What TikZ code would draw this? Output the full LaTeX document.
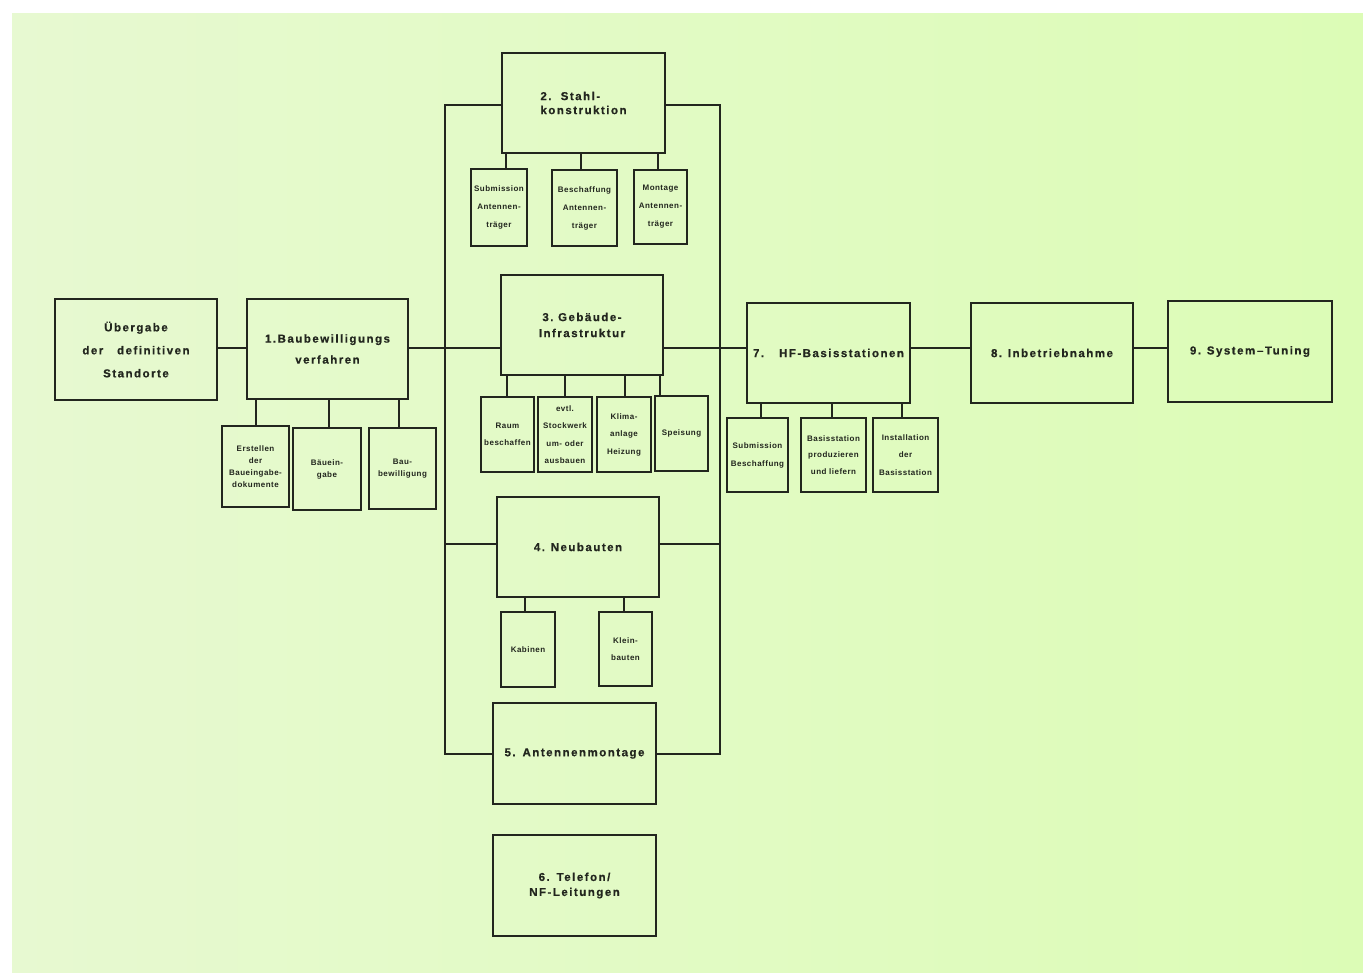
\documentclass[tikz,border=0pt]{standalone}
\usepackage{fontspec}
\newfontfamily\dfont[LetterSpace=13,FakeBold=0.6]{Liberation Sans}
\newfontfamily\sfont[LetterSpace=6]{Liberation Sans}
\definecolor{ink}{RGB}{34,38,30}
\definecolor{bgl}{RGB}{231,249,209}
\definecolor{bgr}{RGB}{220,252,182}
\tikzset{
  bigbox/.style={draw=ink, line width=1.6pt, inner sep=0pt, align=center, text=ink,
    font=\dfont\bfseries\fontsize{11.5}{16}\selectfont},
  bigls/.style={font=\dfont\bfseries\fontsize{11.5}{#1}\selectfont},
  smallbox/.style={draw=ink, line width=1.4pt, inner sep=0pt, align=center, text=ink,
    font=\sfont\bfseries\fontsize{8}{17.5}\selectfont},
  smallls/.style={font=\sfont\bfseries\fontsize{8}{#1}\selectfont},
  conn/.style={draw=ink, line width=1.5pt},
  sz/.style 2 args={minimum width=#1pt, minimum height=#2pt}
}
\begin{document}
\begin{tikzpicture}[x=1pt,y=-1pt]
\useasboundingbox (0,0) rectangle (1363,974);
\fill[white] (0,0) rectangle (1363,974);
\shade[left color=bgl, right color=bgr] (12,14) rectangle (1363,972);

% main boxes
\node[bigbox, sz={162}{101}, bigls=23] (u) at (136,349.5) {Übergabe\\der\hspace{1.2em}definitiven\\Standorte};
\node[bigbox, sz={161}{100}, bigls=21] (b1) at (327.5,349) {1.Baubewilligungs\\verfahren};
\node[bigbox, sz={163}{100}, bigls=14, align=left] (b2) at (583.5,103) {2.\hspace{0.8em}Stahl-\\konstruktion};
\node[bigbox, sz={162}{100}] (b3) at (582,325) {3.\hspace{0.4em}Gebäude-\\Infrastruktur};
\node[bigbox, sz={162}{100}] (b4) at (578,547) {4.\hspace{0.5em}Neubauten};
\node[bigbox, sz={163}{101}] (b5) at (574.5,753.5) {5.\hspace{0.6em}Antennenmontage};
\node[bigbox, sz={163}{101}, bigls=15] (b6) at (574.5,885.5) {6.\hspace{0.6em}Telefon/\\NF-Leitungen};
\node[bigbox, sz={163}{100}] (b7) at (828.5,353) {7.\hspace{1.3em}HF-Basisstationen};
\node[bigbox, sz={162}{100}] (b8) at (1052,353) {8.\hspace{0.5em}Inbetriebnahme};
\node[bigbox, sz={164}{101}] (b9) at (1250,351.5) {9.\hspace{0.5em}System\,–Tuning};

% sub boxes of 1
\node[smallbox, sz={67}{81}, smallls=12] (e1) at (255.5,466.5) {Erstellen\\der\\Baueingabe-\\dokumente};
\node[smallbox, sz={68}{82}, smallls=12] (e2) at (327,469) {Bäuein-\\gabe};
\node[smallbox, sz={67}{81}, smallls=12] (e3) at (402.5,468.5) {Bau-\\bewilligung};
% sub boxes of 2
\node[smallbox, sz={56}{77}, smallls=18] (s1) at (499,207.5) {Submission\\Antennen-\\träger};
\node[smallbox, sz={65}{76}, smallls=18] (s2) at (584.5,208) {Beschaffung\\Antennen-\\träger};
\node[smallbox, sz={53}{74}, smallls=18] (s3) at (660.5,207) {Montage\\Antennen-\\träger};
% sub boxes of 3
\node[smallbox, sz={53}{75}] (t1) at (507.5,434.5) {Raum\\beschaffen};
\node[smallbox, sz={54}{75}] (t2) at (565,434.5) {evtl.\\Stockwerk\\um- oder\\ausbauen};
\node[smallbox, sz={54}{75}] (t3) at (624,434.5) {Klima-\\anlage\\Heizung};
\node[smallbox, sz={53}{75}] (t4) at (681.5,433.5) {Speisung};
% sub boxes of 4
\node[smallbox, sz={54}{75}] (k1) at (528,649.5) {Kabinen};
\node[smallbox, sz={53}{74}] (k2) at (625.5,649) {Klein-\\bauten};
% sub boxes of 7
\node[smallbox, sz={61}{74}, smallls=18] (h1) at (757.5,455) {Submission\\Beschaffung};
\node[smallbox, sz={65}{74}, smallls=16.5] (h2) at (833.5,455) {Basisstation\\produzieren\\und liefern};
\node[smallbox, sz={65}{74}] (h3) at (905.5,455) {Installation\\der\\Basisstation};

% helper coordinates
\coordinate (ml) at (0,348);
\coordinate (n4) at (0,544);
\coordinate (bl1) at (445,105);
\coordinate (bl2) at (445,754);
\coordinate (br1) at (720,105);
\coordinate (br2) at (720,754);

% main line
\draw[conn] (u.east |- ml) -- (b1.west |- ml);
\draw[conn] (b1.east |- ml) -- (b3.west |- ml);
\draw[conn] (b3.east |- ml) -- (b7.west |- ml);
\draw[conn] (b7.east |- ml) -- (b8.west |- ml);
\draw[conn] (b8.east |- ml) -- (b9.west |- ml);
% bus
\draw[conn] (b2.west |- bl1) -- (bl1) -- (bl2) -- (b5.west |- bl2);
\draw[conn] (b2.east |- br1) -- (br1) -- (br2) -- (b5.east |- br2);
\draw[conn] (bl1 |- n4) -- (b4.west |- n4);
\draw[conn] (b4.east |- n4) -- (br1 |- n4);

% sub connectors
\foreach \c/\p/\dx in {e1/b1/0.5, e2/b1/2, e3/b1/-3.5,
    s1/b2/7, s2/b2/-3.5, s3/b2/-2.5,
    t1/b3/-0.5, t2/b3/0, t3/b3/1, t4/b3/-21.5,
    k1/b4/-3, k2/b4/-1.5,
    h1/b7/3.5, h2/b7/-1.5, h3/b7/-3.5}
  \draw[conn] ([xshift=\dx pt]\c.north) -- ([xshift=\dx pt]\c.north |- \p.south);
\end{tikzpicture}
\end{document}
